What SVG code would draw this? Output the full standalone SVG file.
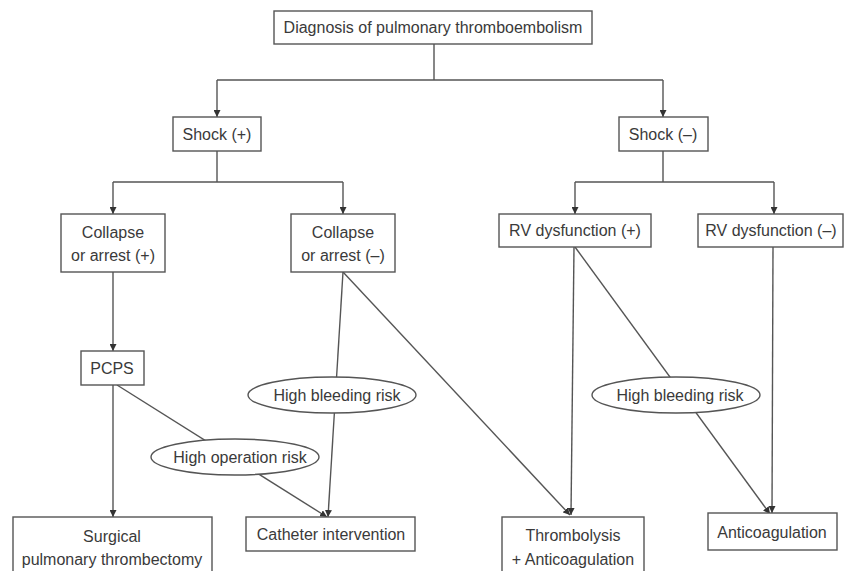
<svg xmlns="http://www.w3.org/2000/svg" width="844" height="571" viewBox="0 0 844 571">
<defs>
<style>
.box{fill:#fff;stroke:#555;stroke-width:1.4}
.ell{fill:#fff;stroke:#555;stroke-width:1.4}
.t{font-family:"Liberation Sans",Arial,sans-serif;font-size:16px;fill:#3a3a3a;text-anchor:middle}
.c{fill:none;stroke:#555;stroke-width:1.4}
.a{fill:none;stroke:#555;stroke-width:1.4;marker-end:url(#arr)}
</style>
<marker id="arr" viewBox="0 0 10 10" refX="10" refY="5" markerWidth="7" markerHeight="7" markerUnits="userSpaceOnUse" orient="auto">
<path d="M0,0 L10,5 L0,10 z" fill="#333"/>
</marker>
</defs>
<rect width="844" height="571" fill="#fff"/>
<g id="connectors">
<path class="c" d="M434,44 V80 M217,80 H663"/>
<path class="a" d="M217,80 V117"/>
<path class="a" d="M663,80 V117"/>
<path class="c" d="M217,151 V182 M113,182 H343"/>
<path class="a" d="M113,182 V214"/>
<path class="a" d="M343,182 V214"/>
<path class="c" d="M663,151 V182 M575,182 H774"/>
<path class="a" d="M575,182 V214"/>
<path class="a" d="M774,182 V214"/>
<path class="a" d="M113,272 V351"/>
<path class="a" d="M113,385 V517"/>
<path class="a" d="M117,385 L327,517"/>
<path class="a" d="M343,272 L328,517"/>
<path class="a" d="M343,272 L570,515"/>
<path class="a" d="M574,247 L571,515"/>
<path class="a" d="M575,247 L770,514"/>
<path class="a" d="M773,247 L772,513"/>
</g>
<g id="n-diagnosis"><rect class="box" x="274" y="11" width="318" height="33"/><text class="t" x="433" y="33">Diagnosis of pulmonary thromboembolism</text></g>
<g id="n-shock-pos"><rect class="box" x="173" y="117" width="88" height="34"/><text class="t" x="217" y="140">Shock (+)</text></g>
<g id="n-shock-neg"><rect class="box" x="619" y="117" width="89" height="34"/><text class="t" x="663" y="140">Shock (–)</text></g>
<g id="n-collapse-pos"><rect class="box" x="61" y="214" width="104" height="58"/><text class="t" x="113" y="238">Collapse</text><text class="t" x="113" y="261">or arrest (+)</text></g>
<g id="n-collapse-neg"><rect class="box" x="291" y="214" width="104" height="58"/><text class="t" x="343" y="238">Collapse</text><text class="t" x="343" y="261">or arrest (–)</text></g>
<g id="n-rv-pos"><rect class="box" x="499" y="214" width="152" height="33"/><text class="t" x="575" y="236">RV dysfunction (+)</text></g>
<g id="n-rv-neg"><rect class="box" x="698" y="214" width="145" height="33"/><text class="t" x="771" y="236">RV dysfunction (–)</text></g>
<g id="n-pcps"><rect class="box" x="81" y="351" width="63" height="34"/><text class="t" x="112" y="374">PCPS</text></g>
<g id="n-bleed1"><ellipse class="ell" cx="332" cy="395" rx="84" ry="18"/><text class="t" x="337" y="401">High bleeding risk</text></g>
<g id="n-bleed2"><ellipse class="ell" cx="676" cy="395" rx="84" ry="18"/><text class="t" x="680" y="401">High bleeding risk</text></g>
<g id="n-oprisk"><ellipse class="ell" cx="235" cy="457" rx="84" ry="18"/><text class="t" x="240" y="463">High operation risk</text></g>
<g id="n-surgical"><rect class="box" x="13" y="517" width="199" height="60"/><text class="t" x="112" y="542">Surgical</text><text class="t" x="112" y="565">pulmonary thrombectomy</text></g>
<g id="n-catheter"><rect class="box" x="246" y="517" width="169" height="34"/><text class="t" x="331" y="540">Catheter intervention</text></g>
<g id="n-thrombolysis"><rect class="box" x="502" y="517" width="142" height="60"/><text class="t" x="573" y="541">Thrombolysis</text><text class="t" x="573" y="565">+ Anticoagulation</text></g>
<g id="n-anticoag"><rect class="box" x="708" y="513" width="129" height="37"/><text class="t" x="772" y="538">Anticoagulation</text></g>
</svg>
